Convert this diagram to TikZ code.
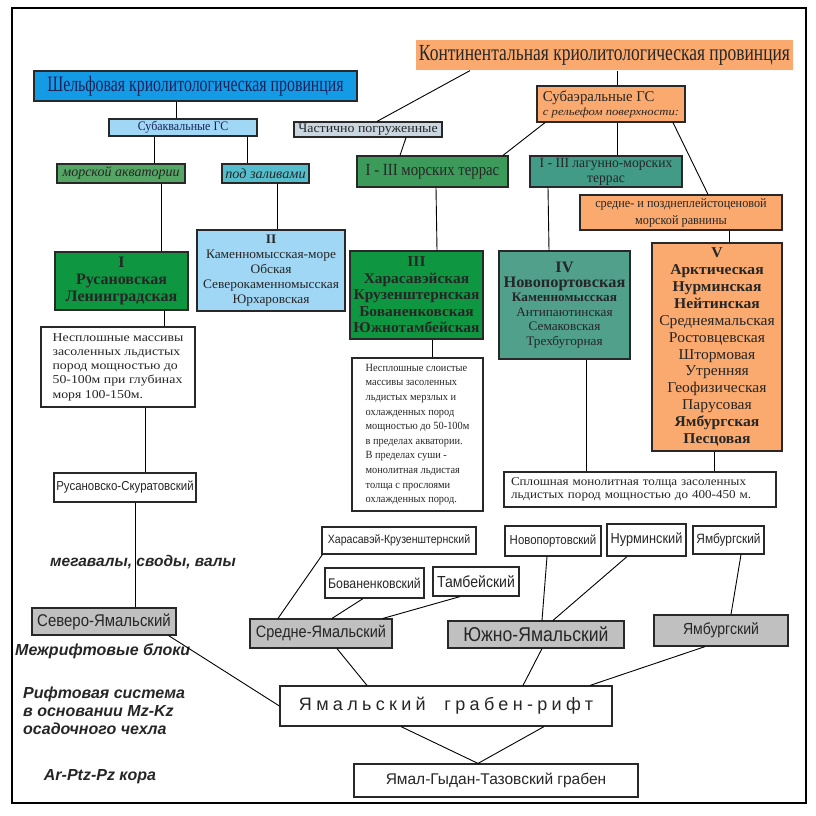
\documentclass[tikz,border=0pt]{standalone}
\usepackage{fontspec}
\setmainfont{Liberation Serif}
\newfontfamily\sr{Liberation Serif}
\newfontfamily\sn[FakeStretch=0.88]{Liberation Sans}
\newfontfamily\snw{Liberation Sans}
\newfontfamily\snls[LetterSpace=24]{Liberation Sans}
\newcommand\fs[2]{\fontsize{#1}{#2}\selectfont}
\newcommand\st[1]{\addfontfeature{FakeStretch=#1}}
\newcommand\bx[7]{\node[#6,minimum width={((#4)-(#2))*1pt},minimum height={((#5)-(#3))*1pt}] (#1) at ({((#2)+(#4))/2},{((#3)+(#5))/2}) {#7};}
\definecolor{shelf}{RGB}{20,155,230}
\definecolor{navy}{RGB}{25,35,90}
\definecolor{orng}{RGB}{250,170,110}
\definecolor{ltblue}{RGB}{160,215,245}
\definecolor{grblue}{RGB}{200,215,225}
\definecolor{mgreen}{RGB}{85,165,100}
\definecolor{cyanb}{RGB}{85,190,205}
\definecolor{tgreen}{RGB}{60,155,90}
\definecolor{teal2}{RGB}{65,155,135}
\definecolor{dgreen}{RGB}{15,150,65}
\definecolor{teal4}{RGB}{80,160,140}
\definecolor{greyb}{RGB}{192,192,192}
\definecolor{bord}{RGB}{40,40,40}
\begin{document}
\begin{tikzpicture}[x=1pt,y=-1pt,
  box/.style={draw=bord,line width=1.2pt,inner sep=0pt,align=center,text=black!85},
  gbox/.style={box,fill=greyb},
  wbox/.style={box,fill=white},
  ln/.style={draw=black,line width=0.9pt},
  lbl/.style={inner sep=0pt,text=black!85,font=\snw\bfseries\itshape\fs{16}{18}}]
\useasboundingbox (0,0) rectangle (816,816);
\draw[line width=1.5pt] (12,8) rectangle (806,803);
% top level
\bx{shelf}{34}{71}{357}{101}{box,fill=shelf,text=navy,font=\sr\st{0.72}\fs{22}{24}}{Шельфовая криолитологическая провинция}
\bx{cont}{416}{40}{793}{70}{box,draw=none,fill=orng,font=\sr\st{0.76}\fs{23}{25}}{Континентальная криолитологическая провинция}
\bx{sub}{109}{119}{257}{136}{box,fill=ltblue,text=navy,font=\sr\st{0.92}\fs{13}{14}}{Субаквальные ГС}
\bx{chast}{294}{122}{442}{137}{box,fill=grblue,font=\sr\st{1.07}\fs{13}{14}}{Частично погруженные}
\bx{suba}{537}{86}{685}{122}{box,fill=orng,align=left,font=\sr\st{0.985}\fs{15}{14}}{Субаэральные ГС\\{\itshape\st{1.15}\fs{11}{13}с рельефом поверхности:}}
\bx{mor}{57}{164}{185}{183}{box,fill=mgreen,font=\sr\itshape\st{1.0}\fs{14}{14}}{морской акватории}
\bx{zal}{222}{164}{309}{183}{box,fill=cyanb,font=\sr\itshape\st{1.02}\fs{14}{14}}{под заливами}
\bx{mt}{357}{156}{508}{187}{box,fill=tgreen,font=\sr\st{0.87}\fs{17}{17}}{I - III морских террас}
\bx{lt}{530}{156}{682}{187}{box,fill=teal2,font=\sr\st{0.97}\fs{14}{15}}{I - III лагунно-морских\\террас}
\bx{sp}{580}{195}{782}{230}{box,fill=orng,font=\sr\st{0.94}\fs{13}{17}}{средне- и позднеплейстоценовой\\морской равнины}
% provinces
\bx{bI}{55}{252}{188}{310}{box,fill=dgreen,font=\sr\bfseries\st{1.0}\fs{16}{17}}{I\\Русановская\\Ленинградская}
\bx{bII}{197}{230}{345}{311}{box,fill=ltblue,font=\sr\st{1.03}\fs{13}{15}}{{\bfseries II}\\Каменномысская-море\\Обская\\Северокаменномысская\\Юрхаровская}
\bx{bIII}{350}{251}{483}{339}{box,fill=dgreen,font=\sr\bfseries\st{1.03}\fs{15}{16.5}}{III\\Харасавэйская\\Крузенштернская\\Бованенковская\\Южнотамбейская}
\bx{bIV}{499}{251}{630}{359}{box,fill=teal4,font=\sr\st{1.02}\fs{13}{14.5}}{\mbox{}\\[-4pt]{\bfseries\fs{16}{18}IV}\\{\bfseries\fs{16}{18}Новопортовская}\\{\bfseries Каменномысская}\\Антипаютинская\\Семаковская\\Трехбугорная}
\bx{bV}{652}{243}{782}{451}{box,fill=orng,font=\sr\st{1.04}\fs{15}{16.9}}{{\bfseries V}\\{\bfseries Арктическая}\\{\bfseries Нурминская}\\{\bfseries Нейтинская}\\Среднеямальская\\Ростовцевская\\Штормовая\\Утренняя\\Геофизическая\\Парусовая\\{\bfseries Ямбургская}\\{\bfseries Песцовая}}
% descriptions
\bx{t1}{41}{327}{195}{407}{wbox,align=left,font=\sr\st{1.15}\fs{12}{14.3}}{Несплошные массивы\\засоленных льдистых\\пород мощностью до\\50-100м при глубинах\\моря 100-150м.}
\bx{t2}{352}{358}{483}{511}{wbox,align=left,font=\sr\st{0.94}\fs{11}{14.6}}{Несплошные слоистые\\массивы засоленных\\льдистых мерзлых и\\охлажденных пород\\мощностью до 50-100м\\в пределах акватории.\\В пределах суши -\\монолитная льдистая\\толща с прослоями\\охлажденных пород.}
\bx{t3}{504}{472}{776}{507}{wbox,align=left,text width=258pt,font=\sr\st{1.09}\fs{12}{13.5}}{Сплошная монолитная толща засоленных\\льдистых пород мощностью до 400-450 м.}
% structures
\bx{rus}{54}{473}{196}{502}{wbox,font=\sn\fs{13}{13}}{Русановско-Скуратовский}
\bx{har}{322}{527}{476}{554}{wbox,font=\sn\fs{12}{12}}{Харасавэй-Крузенштернский}
\bx{bov}{325}{568}{424}{598}{wbox,font=\sn\fs{14}{14}}{Бованенковский}
\bx{tam}{433}{567}{519}{596}{wbox,font=\sn\fs{16}{16}}{Тамбейский}
\bx{nov}{505}{526}{601}{556}{wbox,font=\sn\fs{13}{13}}{Новопортовский}
\bx{nur}{607}{524}{686}{556}{wbox,font=\sn\fs{14.5}{14.5}}{Нурминский}
\bx{yamw}{693}{526}{764}{554}{wbox,font=\sn\fs{13.5}{13.5}}{Ямбургский}
\bx{sev}{32}{608}{176}{635}{gbox,font=\sn\fs{17}{17}}{Северо-Ямальский}
\bx{sred}{250}{619}{392}{648}{gbox,font=\sn\fs{16.5}{16.5}}{Средне-Ямальский}
\bx{yuzh}{448}{621}{624}{648}{gbox,font=\sn\fs{20}{20}}{Южно-Ямальский}
\bx{yamg}{654}{615}{788}{646}{gbox,font=\sn\fs{16}{16}}{Ямбургский}
\bx{rift}{280}{686}{612}{726}{wbox,font=\snls\fs{18}{18}}{Ямальский\ \ грабен-рифт}
\bx{ygt}{354}{764}{638}{797}{wbox,font=\snw\fs{15.5}{15.5}}{Ямал-Гыдан-Тазовский грабен}
% labels
\node[lbl,font=\snw\bfseries\itshape\fs{15.5}{18}] (meg) at (143,562) {мегавалы, своды, валы};
\node[lbl,anchor=west] (mezh) at (15,651) {Межрифтовые блоки};
\node[lbl,anchor=west,align=left] (rsys) at (23,711) {Рифтовая система\\в основании Mz-Kz\\осадочного чехла};
\node[lbl] (ar) at (100,777) {Ar-Ptz-Pz кора};
% connectors
\draw[ln] ([xshift=-19.5pt]shelf.south) -- ([xshift=-7pt]sub.north);
\draw[ln] ([xshift=-29pt]sub.south) -- ([xshift=33pt]mor.north);
\draw[ln] ([xshift=64pt]sub.south) -- ([xshift=-18.5pt]zal.north);
\draw[ln] ([xshift=40pt]mor.south) -- ([xshift=39.5pt]bI.north);
\draw[ln] ([xshift=11.5pt]zal.south) -- ([xshift=6pt]bII.north);
\draw[ln] ([xshift=-134.5pt]cont.south) -- ([xshift=9pt]chast.north);
\draw[ln] ([xshift=12.5pt]cont.south) -- ([xshift=6pt]suba.north);
\draw[ln] ([xshift=38pt]chast.south) -- ([xshift=-32.5pt]mt.north);
\draw[ln] ([xshift=-66pt]suba.south) -- ([xshift=70.5pt]mt.north);
\draw[ln] ([xshift=6pt]suba.south) -- ([xshift=11pt]lt.north);
\draw[ln] ([xshift=62pt]suba.south) -- ([xshift=27pt]sp.north);
\draw[ln] ([xshift=3.5pt]mt.south) -- ([xshift=20.5pt]bIII.north);
\draw[ln] ([xshift=-58pt]lt.south) -- ([xshift=-15.5pt]bIV.north);
\draw[ln] ([xshift=48pt]sp.south) -- ([xshift=12pt]bV.north);
\draw[ln] ([xshift=42.5pt]bI.south) -- ([xshift=46pt]t1.north);
\draw[ln] ([xshift=15.5pt]bIII.south) -- ([xshift=14.5pt]t2.north);
\draw[ln] ([xshift=21.5pt]bIV.south) -- ([xshift=-54pt]t3.north);
\draw[ln] ([xshift=-3pt]bV.south) -- ([xshift=74pt]t3.north);
\draw[ln] ([xshift=27pt]t1.south) -- ([xshift=20pt]rus.north);
\draw[ln] ([xshift=10pt]rus.south) -- ([xshift=31pt]sev.north);
\draw[ln] ([xshift=1pt]har.south west) -- ([xshift=-43pt]sred.north);
\draw[ln] ([xshift=-11.5pt]bov.south) -- ([xshift=11pt]sred.north);
\draw[ln] ([xshift=-16pt]tam.south) -- ([xshift=62pt]sred.north);
\draw[ln] ([xshift=-6pt]nov.south) -- ([xshift=6pt]yuzh.north);
\draw[ln] ([xshift=-19.5pt]nur.south) -- ([xshift=17pt]yuzh.north);
\draw[ln] ([xshift=12.5pt]yamw.south) -- ([xshift=10pt]yamg.north);
\draw[ln] ([xshift=-8pt]sev.south east) -- (rift.west);
\draw[ln] ([xshift=16pt]sred.south) -- ([xshift=-79pt]rift.north);
\draw[ln] ([xshift=6pt]yuzh.south) -- ([xshift=77pt]rift.north);
\draw[ln] ([xshift=-16pt]yamg.south) -- ([xshift=144pt]rift.north);
\draw[ln] ([xshift=-45pt]rift.south) -- ([xshift=-18pt]ygt.north);
\draw[ln] ([xshift=98pt]rift.south) -- ([xshift=-18pt]ygt.north);
\end{tikzpicture}
\end{document}
